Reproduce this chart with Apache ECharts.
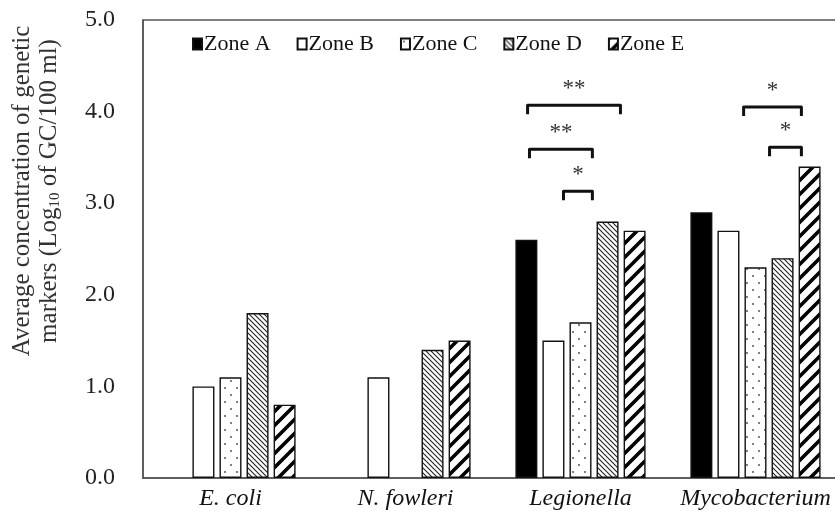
<!DOCTYPE html>
<html>
<head>
<meta charset="utf-8">
<script src="https://cdn.jsdelivr.net/npm/echarts@6/dist/echarts.min.js"></script>
<style>
html,body{margin:0;padding:0;background:#fff;}
#chart{width:835px;height:521px;}
</style>
</head>
<body>
<div id="chart"></div>
<script>
// ---- data ----
const categories = ['E. coli', 'N. fowleri', 'Legionella', 'Mycobacterium'];
const zoneNames = ['Zone A', 'Zone B', 'Zone C', 'Zone D', 'Zone E'];
const zoneA = [0, 0, 2.6, 2.9];
const zoneB = [1.0, 1.1, 1.5, 2.7];
const zoneC = [1.1, 0, 1.7, 2.3];
const zoneD = [1.8, 1.4, 2.8, 2.4];
const zoneE = [0.8, 1.5, 2.7, 3.4];
const yTicks = [0, 1, 2, 3, 4, 5];
// significance brackets: [categoryIndex, fromSlot, toSlot, yValue, label]
const brackets = [
  [2, -1.96, 1.48, 4.07, '**'],
  [2, -1.89, 0.44, 3.59, '**'],
  [2, -0.63, 0.44, 3.13, '*'],
  [3, -0.44, 1.70, 4.05, '*'],
  [3, 0.52, 1.70, 3.61, '*']
];

// ---- patterns ----
function makeTile(w, h, draw) {
  const c = document.createElement('canvas');
  c.width = w; c.height = h;
  const ctx = c.getContext('2d');
  ctx.fillStyle = '#fff';
  ctx.fillRect(0, 0, w, h);
  draw(ctx, w, h);
  return c;
}
const dotsTile = makeTile(12, 14, (ctx) => {
  ctx.fillStyle = '#444';
  ctx.beginPath(); ctx.arc(3, 3, 0.9, 0, Math.PI * 2); ctx.fill();
  ctx.beginPath(); ctx.arc(9, 10, 0.9, 0, Math.PI * 2); ctx.fill();
});
const denseTile = makeTile(5, 5, (ctx, w, h) => {
  ctx.strokeStyle = '#222';
  ctx.lineWidth = 1.1;
  ctx.beginPath();
  ctx.moveTo(-1, -1); ctx.lineTo(w + 1, h + 1);
  ctx.moveTo(-1 - w, -1); ctx.lineTo(1, h + 1);
  ctx.moveTo(w - 1, -1); ctx.lineTo(2 * w + 1, h + 1);
  ctx.stroke();
});
const wideTile = makeTile(14, 14, (ctx, w, h) => {
  ctx.strokeStyle = '#000';
  ctx.lineWidth = 3.6;
  ctx.beginPath();
  ctx.moveTo(-2, h + 2); ctx.lineTo(w + 2, -2);
  ctx.moveTo(-2 - w, h + 2); ctx.lineTo(2, -2);
  ctx.moveTo(w - 2, h + 2); ctx.lineTo(2 * w + 2, -2);
  ctx.stroke();
});

const fills = [
  '#000',
  '#fff',
  { image: dotsTile, repeat: 'repeat' },
  { image: denseTile, repeat: 'repeat' },
  { image: wideTile, repeat: 'repeat' }
];
const zoneData = [zoneA, zoneB, zoneC, zoneD, zoneE];

const FONT = '"Liberation Serif", "Times New Roman", serif';
const BAR_FRAC = 22 / 175;
const SLOT_FRAC = 27 / 175;

const barSeries = zoneNames.map((name, i) => ({
  name: name,
  type: 'bar',
  data: zoneData[i].map(v => (v === 0 ? null : v)),
  barWidth: (BAR_FRAC * 100).toFixed(2) + '%',
  barGap: '23%',
  itemStyle: { color: fills[i], borderColor: '#111', borderWidth: 1.4 },
  emphasis: { disabled: true },
  animation: false
}));

const bracketSeries = {
  type: 'custom',
  silent: true,
  animation: false,
  clip: false,
  data: brackets.map(b => [b[0], b[3], b[1], b[2]]),
  renderItem: function (params, api) {
    const cat = api.value(0);
    const y = api.value(1);
    const from = api.value(2);
    const to = api.value(3);
    const label = brackets[params.dataIndex][4];
    const p = api.coord([cat, y]);
    const band = api.size([1, 0])[0];
    const slot = band * SLOT_FRAC;
    const x1 = p[0] + from * slot;
    const x2 = p[0] + to * slot;
    const drop = 9;
    return {
      type: 'group',
      children: [
        {
          type: 'polyline',
          shape: { points: [[x1, p[1] + drop], [x1, p[1]], [x2, p[1]], [x2, p[1] + drop]] },
          style: { stroke: '#111', lineWidth: 3, fill: null, lineJoin: 'round', lineCap: 'butt' }
        },
        {
          type: 'text',
          x: (x1 + x2) / 2,
          y: p[1] - 16,
          style: {
            text: label,
            font: '23px ' + FONT,
            fill: '#333',
            align: 'center',
            verticalAlign: 'middle'
          }
        }
      ]
    };
  }
};

const chart = echarts.init(document.getElementById('chart'), null, { renderer: 'canvas' });
chart.setOption({
  animation: false,
  backgroundColor: '#fff',
  grid: {
    left: 143, top: 20, bottom: 43, right: -8,
    outerBoundsMode: 'none',
    containLabel: false,
    show: true, borderColor: '#555', borderWidth: 1.5, backgroundColor: 'transparent'
  },
  legend: {
    data: zoneNames,
    left: 187,
    top: 28,
    icon: 'rect',
    itemWidth: 9,
    itemHeight: 11,
    itemGap: 26,
    textStyle: { fontFamily: FONT, fontSize: 22, color: '#111', padding: [0, 0, 0, -3] },
    selectedMode: false
  },
  xAxis: {
    type: 'category',
    data: categories,
    axisLine: { show: true, lineStyle: { color: '#555', width: 1.5 } },
    axisTick: { show: false },
    axisLabel: { interval: 0, fontFamily: FONT, fontStyle: 'italic', fontSize: 24, color: '#111', margin: 9 }
  },
  yAxis: {
    type: 'value',
    min: yTicks[0],
    max: yTicks[yTicks.length - 1],
    interval: 1,
    splitLine: { show: false },
    axisTick: { show: false },
    axisLine: { show: true, lineStyle: { color: '#555', width: 1.5 } },
    axisLabel: {
      fontFamily: FONT, fontSize: 24, color: '#222', margin: 28,
      formatter: v => v.toFixed(1)
    },
    name: '{n|Average concentration of genetic}\n{n|markers (Log}{s|10}{n| of GC/100 ml)}',
    nameLocation: 'middle',
    nameRotate: 90,
    nameGap: 80,
    nameTextStyle: {
      fontFamily: FONT, fontSize: 25, color: '#333', lineHeight: 27,
      padding: [0, 0, 0, 116],
      rich: {
        n: { fontFamily: FONT, fontSize: 25, color: '#333', lineHeight: 27 },
        s: { fontFamily: FONT, fontSize: 15, color: '#333', verticalAlign: 'bottom', padding: [9, 0, 0, 0] }
      }
    }
  },
  series: barSeries.concat([bracketSeries])
});
</script>
</body>
</html>
